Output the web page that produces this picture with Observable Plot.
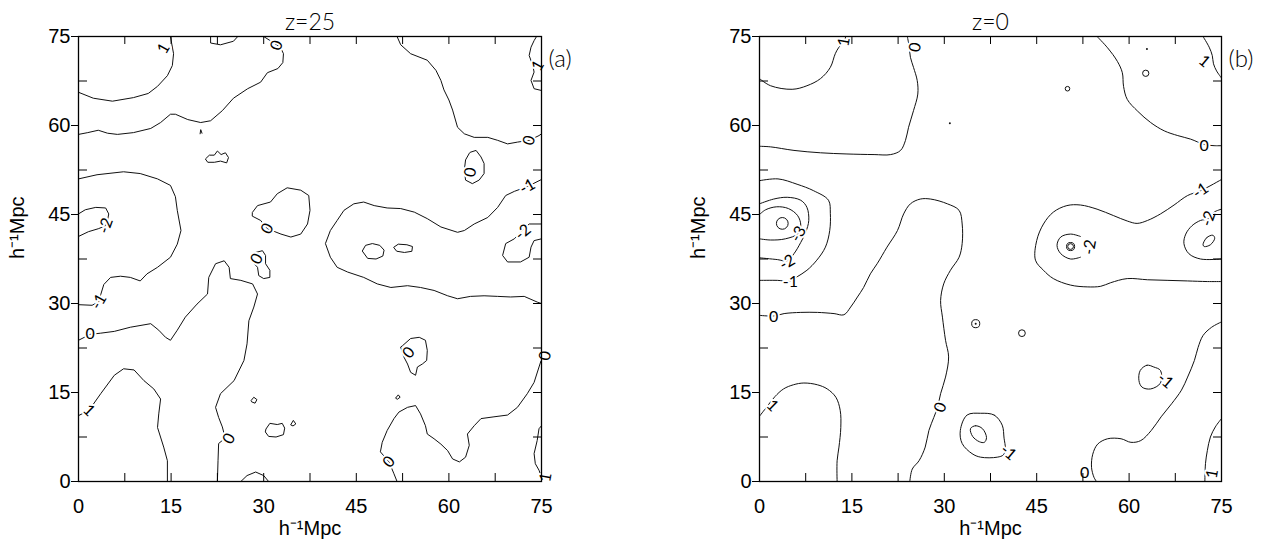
<!DOCTYPE html>
<html>
<head>
<meta charset="utf-8">
<script src="https://cdn.jsdelivr.net/npm/d3@7"></script>
<script src="https://cdn.jsdelivr.net/npm/@observablehq/plot@0.6"></script>
<style>
  html, body { margin: 0; padding: 0; background: #fff; }
  #wrap { display: flex; width: 1277px; height: 540px; overflow: hidden; }
  #wrap svg { display: block; overflow: visible; }
</style>
</head>
<body>
<div id="wrap"></div>
<script>
// ---------- axis ticks (h^-1 Mpc) ----------
const majorTicks = [0, 15, 30, 45, 60, 75];
const minorTicks = [7.5, 22.5, 37.5, 52.5, 67.5];
const allTicks = [0, 7.5, 15, 22.5, 30, 37.5, 45, 52.5, 60, 67.5, 75];

// ---------- panel (a): z = 25 contour paths, [x, y] in h^-1 Mpc ----------
const a_p1_topLeft = [[0,65.6],[2.4,64.6],[5.5,64.1],[8.9,64.7],[11.3,65.4],[12.8,66.6],[14.4,68.4],[15.2,70.1],[15.4,72.1],[15.1,73.8],[14.9,75]];
const a_cap_top = [[21.4,75],[21.4,73.9],[23.0,73.6],[25.1,74.2],[25.8,75]];
const a_z_top = [[0,58.5],[1.5,58.8],[3.2,59.2],[4.7,58.7],[6.3,58.5],[8.9,58.8],[11.7,59.5],[13.3,60.5],[14.9,61.9],[15.7,61.9],[17.7,61.0],[19.8,60.5],[21.4,60.8],[23.3,62.5],[25.1,64.6],[27.4,66.2],[29.5,67.3],[30.6,68.9],[32.3,69.6],[33.1,70.6],[33.2,72.1],[32.7,73.2],[30.0,75]];
const a_m1_left = [[0,51.0],[3.0,51.7],[7.3,52.2],[10.0,51.9],[12.8,51.0],[14.9,49.9],[15.7,48.0],[16.0,45.7],[16.6,42.3],[16.0,40.0],[14.9,37.8],[12.8,36.1],[11.1,35.0],[10.0,33.8],[8.4,34.4],[6.8,34.6],[5.2,34.4],[4.1,33.2],[3.6,31.5],[3.3,30.3],[2.2,29.7],[0,29.8]];
const a_m2_left = [[0,45.1],[1.1,45.8],[2.8,46.2],[4.4,46.1],[4.9,45.1],[4.7,44.0],[4.4,43.1],[3.2,42.6],[1.6,42.1],[0,41.3]];
const a_z_left = [[0,23.8],[1.9,24.8],[3.6,25.0],[5.8,25.3],[8.4,26.0],[11.7,26.6],[13.0,25.5],[14.1,24.3],[14.9,23.8],[16.0,25.5],[17.3,27.7],[19.2,29.9],[20.9,31.6],[21.1,34.4],[22.2,36.7],[23.6,37.2],[24.4,36.1],[24.6,34.2],[26.3,33.9],[28.2,33.3],[29.0,31.6],[28.4,29.4],[27.6,27.1],[27.3,23.2],[26.8,20.4],[25.2,17.0],[23.0,14.8],[22.2,12.5],[22.7,10.8],[23.3,9.2],[23.6,8.0],[23.4,7.0],[22.7,6.4],[22.6,3.5],[22.5,0]];
const a_p1_bottomLeft = [[0,11.1],[1.7,12.0],[3.6,14.8],[5.8,17.9],[7.3,19.0],[9.0,18.8],[10.6,17.0],[12.2,15.6],[13.3,13.9],[13.0,11.4],[12.8,9.1],[13.8,5.8],[14.4,3.5],[14.4,0]];
const a_cap_bottom = [[26.3,0],[27.3,1.0],[28.7,1.6],[30.0,1.0],[30.8,0]];
const a_ring1 = [[28.2,45.4],[29.0,46.5],[31.1,47.1],[32.2,48.5],[33.8,49.5],[36.0,49.1],[37.3,48.2],[37.5,45.7],[37.1,43.4],[36.0,41.7],[34.4,41.2],[32.8,41.7],[30.6,42.6],[29.5,44.0],[28.2,44.7]];
const a_ring2 = [[28.7,38.6],[29.8,38.9],[30.3,38.1],[30.3,36.7],[31.0,35.6],[31.0,34.4],[30.0,34.2],[29.2,34.7],[29.0,36.1],[28.2,37.0],[28.2,38.1]];
const a_ring3 = [[52.5,22.9],[53.8,24.1],[55.2,24.3],[56.2,23.8],[56.5,22.1],[56.4,20.4],[55.7,19.8],[54.9,19.3],[54.6,17.9],[53.8,18.4],[53.3,19.8],[52.7,21.0],[52.2,22.6]];
const a_ring4 = [[63.5,55.5],[64.4,55.8],[65.2,54.7],[65.7,53.6],[65.7,51.9],[64.9,50.8],[63.8,50.2],[62.7,50.8],[62.5,52.5],[62.7,54.2],[63.3,55.3]];
const a_z_bottomRight = [[51.6,0],[51.1,1.3],[50.3,3.3],[48.9,5.0],[49.2,6.6],[50.0,8.6],[51.1,10.6],[51.9,11.7],[53.3,12.5],[54.6,12.8],[55.4,11.4],[56.2,9.4],[56.5,8.0],[57.6,7.2],[58.7,6.3],[59.8,5.2],[60.6,3.8],[61.7,3.3],[62.7,4.1],[63.3,6.1],[63.0,8.0],[64.1,9.4],[65.2,10.6],[67.3,10.9],[69.5,11.2],[71.1,12.5],[72.7,14.8],[73.8,16.7],[74.6,19.3],[75,20.6]];
const a_p1_bottomRight = [[75,9.4],[74.6,8.9],[74.3,6.9],[73.8,4.7],[74.0,3.0],[74.6,1.9],[75,0.7]];
const a_z_topRight = [[51.6,75],[52.2,73.6],[53.8,72.1],[56.5,71.0],[57.9,69.3],[58.7,67.6],[59.2,66.0],[60.0,64.3],[60.6,62.6],[61.4,59.7],[62.5,58.6],[64.1,58.0],[66.3,58.0],[67.9,57.5],[69.5,56.9],[71.1,57.2],[73.0,57.5],[74.6,58.3],[75,58.6]];
const a_m1_right = [[75,50.9],[72.7,49.7],[70.6,48.9],[69.2,48.2],[67.9,46.2],[66.3,44.5],[64.1,43.4],[62.5,42.3],[61.4,42.0],[58.7,42.9],[56.5,44.3],[54.4,45.4],[52.2,46.0],[50.0,46.1],[47.9,46.5],[46.2,47.1],[44.6,46.8],[43.0,45.7],[41.9,44.0],[40.8,42.3],[40.0,40.1],[40.8,37.8],[41.9,36.1],[43.6,35.3],[46.2,34.4],[48.4,33.3],[50.6,32.7],[53.3,33.0],[55.4,32.7],[57.6,32.2],[59.8,31.3],[61.4,30.8],[63.5,31.2],[65.7,31.3],[67.9,31.2],[70.0,31.1],[72.2,31.2],[74.4,30.2],[75,30.0]];
const a_m2_right = [[75,40.9],[73.8,40.6],[73.3,39.5],[73.0,37.8],[71.6,37.0],[69.5,37.0],[68.7,38.1],[69.2,40.1],[70.6,40.9],[71.6,42.0],[73.0,43.4],[75,43.4]];
const a_p1_topRight = [[74.2,75],[73.8,74.3],[73.3,73.2],[73.0,71.8],[73.6,70.1],[73.8,69.0],[73.3,67.6],[73.8,66.2],[75,65.9]];
const a_blob1 = [[46.0,38.9],[46.5,39.8],[47.6,40.1],[48.8,39.8],[49.5,39.0],[49.3,38.0],[48.2,37.5],[46.9,37.6]];
const a_blob2 = [[51.1,39.5],[51.8,40.0],[53.2,39.9],[54.1,39.6],[54.0,38.8],[52.8,38.6],[51.6,38.8]];
const a_blob3 = [[20.6,54.4],[21.2,55.0],[22.0,55.0],[22.5,55.7],[23.1,55.1],[23.8,55.4],[24.3,54.6],[24.0,53.7],[23.0,54.0],[22.0,53.8],[21.0,53.8]];
const a_blob4 = [[30.4,8.9],[31.0,9.8],[32.2,9.6],[33.0,9.8],[33.4,9.0],[33.2,7.9],[32.0,7.5],[30.8,7.6],[30.3,8.3]];
const a_blob5 = [[28.0,13.7],[28.4,14.2],[28.9,13.8],[28.6,13.2],[28.1,13.4]];
const a_blob6 = [[34.4,9.6],[34.8,10.3],[35.2,9.7],[34.8,9.4]];
const a_blob7 = [[51.4,14.1],[51.8,14.6],[52.1,14.2],[51.7,13.9]];
const a_blob8 = [[19.7,58.6],[19.8,59.3],[20.0,58.7]];

const a_labelText = ["1","0","-2","-1","0","1","0","0","0","0","0","-1","-2","1","0","0","0","1"];
const a_labelX    = [13.8,32.1,4.4,3.3,1.9,1.7,30.6,28.9,24.4,73.0,63.5,72.7,72.0,74.4,53.5,50.3,75.6,75.7];
const a_labelY    = [73.0,73.5,43.1,30.3,24.8,12.0,42.6,37.5,7.2,57.5,52.1,49.7,42.0,70.1,21.7,3.3,21.2,0.7];

// ---------- panel (b): z = 0 contour paths ----------
const b_p1_topLeft = [[0,67.9],[1.8,66.7],[5.3,66.1],[7.7,66.7],[9.9,67.9],[11.5,69.8],[12.3,72.1],[12.9,73.2],[13.7,74.1],[14.0,75]];
const b_z_top = [[24.0,75],[24.3,73.3],[24.5,71.5],[25.0,69.8],[25.6,67.6],[25.7,65.3],[25.0,62.5],[24.2,59.7],[23.7,57.5],[22.9,55.8],[21.3,55.1],[18.6,55.1],[14.2,55.2],[9.9,55.4],[5.6,55.8],[1.8,56.4],[0,56.5]];
const b_z_topRight = [[54.8,75],[56.5,73.1],[58.1,70.8],[58.9,68.9],[59.1,66.6],[59.7,64.4],[61.4,62.4],[63.5,60.5],[65.7,59.1],[67.9,58.3],[70.0,57.7],[72.2,56.8],[73.8,56.6],[75,56.6]];
const b_p1_topRight = [[72.0,75],[73.0,73.2],[73.5,71.8],[73.7,70.4],[74.2,69.2],[75,68.0]];
const b_m1_left = [[0,50.7],[3.0,51.0],[6.1,50.1],[8.8,49.0],[11.2,47.4],[11.5,45.2],[11.4,42.3],[10.7,39.5],[9.3,37.3],[7.7,35.6],[6.1,34.5],[5.0,33.8],[2.9,33.9],[0,33.9]];
const b_m2_left = [[0,46.8],[2.3,47.6],[4.5,47.9],[6.7,47.4],[7.7,46.2],[8.0,44.0],[7.5,42.0],[6.7,40.3],[5.6,38.4],[4.5,37.2],[2.9,37.4],[0,37.7]];
const b_m3_left = [[0,45.0],[1.0,45.8],[2.8,46.3],[4.7,46.0],[6.2,44.8],[6.7,43.2],[6.3,41.8],[4.2,40.9],[1.8,40.7],[0,40.9]];
const b_z_left = [[0,28.0],[2.3,27.9],[4.0,28.3],[6.7,28.5],[9.4,28.5],[12.1,28.3],[13.7,28.1],[14.8,29.4],[15.9,31.1],[16.9,32.7],[18.0,35.0],[19.1,36.7],[20.7,39.5],[22.4,42.3],[23.4,45.1],[24.5,46.8],[26.1,47.6],[27.8,47.6],[30.5,46.8],[32.4,45.7],[32.9,43.4],[32.9,40.1],[32.4,37.8],[31.0,35.6],[29.9,33.3],[29.4,30.5],[29.7,27.7],[30.2,23.8],[30.7,21.0],[30.2,17.6],[29.4,14.8],[28.9,12.5],[28.3,10.8],[27.5,8.6],[26.9,5.8],[25.9,3.5],[24.8,2.1],[24.4,0]];
const b_p1_bottomLeft = [[0,11.0],[1.2,12.6],[2.5,14.3],[3.9,15.6],[5.5,16.3],[7.2,16.6],[9.4,16.3],[11.0,15.6],[12.4,14.2],[13.1,12.0],[13.2,9.1],[12.9,5.8],[12.6,3.5],[12.6,0]];
const b_m1_loop = [[35.9,11.5],[38.1,11.2],[39.4,9.5],[39.7,7.3],[39.9,5.6],[39.6,4.5],[38.6,4.1],[35.9,4.1],[34.5,4.7],[32.9,6.4],[32.6,8.6],[33.7,11.2]];
const b_ellipse = [[34.25,8.9],[35.06,9.4],[36.2,8.9],[36.85,7.4],[36.5,6.6],[35.7,6.7],[34.6,7.6]];
const b_m1_small = [[64.0,19.3],[62.9,19.6],[61.8,18.7],[61.6,17.0],[62.1,15.9],[63.5,15.6],[65.1,16.6],[65.1,18.7]];
const b_z_bottomRight = [[75,26.9],[73.4,26.0],[72.0,24.6],[71.2,22.6],[70.6,20.4],[69.5,17.6],[68.5,15.4],[66.9,13.1],[65.2,10.9],[63.6,8.6],[61.9,6.9],[60.3,6.6],[58.7,7.2],[56.5,7.2],[54.9,6.3],[54.1,4.6],[53.9,2.4],[54.3,0.7],[54.7,0]];
const b_p1_bottomRight = [[75,10.6],[74.0,9.2],[73.2,7.5],[72.7,5.2],[72.4,3.0],[72.3,0]];
const b_m1_right = [[75,50.9],[71.6,49.0],[69.5,48.2],[67.3,46.6],[65.1,45.1],[63.0,44.0],[61.3,43.5],[59.7,43.9],[57.5,44.8],[54.8,45.9],[52.1,46.6],[49.9,46.5],[47.7,45.4],[46.1,43.4],[45.0,40.6],[44.8,37.3],[46.1,35.6],[47.7,34.2],[50.5,33.1],[53.2,32.8],[55.4,32.9],[57.0,33.5],[59.7,34.2],[63.0,34.0],[66.3,33.9],[69.5,33.8],[72.7,33.7],[75,33.7]];
const b_m2_right = [[75,37.5],[71.6,37.5],[69.7,38.4],[68.9,40.1],[69.2,41.7],[70.2,43.1],[71.6,44.0],[72.9,44.3],[73.8,45.4],[75,45.9]];
const b_ellipse_right = [[72.0,39.9],[72.6,41.1],[73.6,41.5],[73.9,41.0],[73.2,39.9],[72.2,39.6]];
const b_m2_arc = [[52.1,37.8],[50.5,37.5],[48.9,38.4],[48.3,39.8],[48.9,41.2],[50.5,41.7],[52.1,41.3]];

// small closed contours of panel (b): centre [x, y], drawn as rings
const b_ringX = [3.7, 35.1, 42.6, 50.0, 62.7, 50.5, 50.5];
const b_ringY = [43.5, 26.6, 25.0, 66.2, 68.8, 39.6, 39.6];
const b_ringR = [10.5, 5, 3.5, 1.6, 3, 5, 2.5];
// single-cell peaks
const b_peakX = [35.1, 62.9, 30.9];
const b_peakY = [26.6, 72.9, 60.4];

const b_labelText = ["1","0","0","1","-1","-2","-2","-3","-2","-1","0","1","0","-1","-1","0","1"];
const b_labelX    = [13.7,25.3,72.2,72.2,71.6,72.9,53.6,6.3,4.5,5.0,2.3,2.1,29.4,40.4,65.9,52.8,73.5];
const b_labelY    = [74.1,73.2,56.6,70.8,49.0,44.3,39.5,41.7,36.9,33.6,27.7,12.8,12.5,4.9,17.0,1.4,1.3];

// ---------- drawing ----------
const H = 540, MT = 36, MB = 59;
const a_labelAngle = [-60,-70,-70,-60,0,45,-60,-60,-60,-75,-80,-30,-40,-60,-50,-50,-80,-80];
const b_labelAngle = [-80,-80,0,40,-35,-70,-80,-60,-30,0,0,45,-70,40,40,0,-80];

function labelRows(text, xs, ys, angles) {
  return text.map((t, i) => ({text: t, x: xs[i], y: ys[i], angle: angles[i]}));
}

const labelFont = {fontFamily: "Lato, 'DejaVu Sans', sans-serif", fontWeight: 400, fontSize: 16};

function panel({paths, loops, labels, rings = [], peaks = [], title, tag, width, marginLeft, marginRight, smooth}) {
  const fh = H - MT - MB;
  const fw = width - marginLeft - marginRight;
  const open = smooth ? "catmull-rom" : "linear";
  const closed = smooth ? "catmull-rom-closed" : "linear-closed";
  const marks = [];
  for (const p of paths) marks.push(Plot.line(p, {x: d => d[0], y: d => d[1], curve: open, stroke: "#111", strokeWidth: 1, clip: true}));
  for (const p of loops) marks.push(Plot.line(p, {x: d => d[0], y: d => d[1], curve: closed, stroke: "#111", strokeWidth: 1, clip: true}));
  if (rings.length) marks.push(Plot.dot(rings, {x: "x", y: "y", r: "r", stroke: "#111", strokeWidth: 1, fill: "none"}));
  if (peaks.length) marks.push(Plot.dot(peaks, {x: "x", y: "y", r: 1, fill: "#111"}));
  // contour level labels: a white knock-out first breaks the line, then the glyphs
  marks.push(Plot.text(labels, {x: "x", y: "y", text: "text", rotate: "angle", ...labelFont,
    fill: "white", stroke: "white", strokeWidth: 4}));
  marks.push(Plot.text(labels, {x: "x", y: "y", text: "text", rotate: "angle", ...labelFont, fill: "#000"}));
  // inward ticks on bottom, top and right; inward minor ticks on the left
  marks.push(Plot.tickX(allTicks, {x: d => d, insetTop: fh - 8, stroke: "#000"}));
  marks.push(Plot.tickX(allTicks, {x: d => d, insetBottom: fh - 8, stroke: "#000"}));
  marks.push(Plot.tickY(allTicks, {y: d => d, insetLeft: fw - 8, stroke: "#000"}));
  marks.push(Plot.tickY(minorTicks, {y: d => d, insetRight: fw - 9, stroke: "#000"}));
  marks.push(Plot.frame({stroke: "#000", strokeWidth: 1.3}));
  // titles and axis names
  marks.push(Plot.text([title], {frameAnchor: "top", lineAnchor: "bottom", dy: -7,
    fontFamily: "Lato, 'DejaVu Sans', sans-serif", fontWeight: 300, fontSize: 23, ariaLabel: "wide-text"}));
  marks.push(Plot.text([tag], {frameAnchor: "top-right", textAnchor: "start", lineAnchor: "middle", dx: 7, dy: 23,
    fontFamily: "Lato, 'DejaVu Sans', sans-serif", fontWeight: 300, fontSize: 24, ariaLabel: "wide-text"}));
  marks.push(Plot.text(["h\u207B\u00B9Mpc"], {frameAnchor: "bottom", lineAnchor: "bottom", dy: 53, fontSize: 20}));
  marks.push(Plot.text(["h\u207B\u00B9Mpc"], {frameAnchor: "left", rotate: -90, dx: -61, fontSize: 20}));

  const svg = Plot.plot({
    width, height: H,
    marginLeft, marginRight, marginTop: MT, marginBottom: MB,
    style: {fontFamily: "'Liberation Sans', Arial, sans-serif", fontSize: "20px", color: "#000", background: "#fff", overflow: "visible"},
    x: {domain: [0, 75], ticks: majorTicks, tickSize: 0, tickPadding: 17, label: null, tickFormat: d => String(d)},
    y: {domain: [0, 75], ticks: majorTicks, tickSize: 7, tickPadding: 1, label: null, tickFormat: d => String(d)},
    marks
  });
  d3.select(svg).selectAll("g[aria-label='wide-text'] text").style("letter-spacing", "3px");
  return svg;
}

const rows = (xs, ys, rs) => xs.map((x, i) => ({x, y: ys[i], r: rs ? rs[i] : 1}));

const panelA = panel({
  paths: [a_p1_topLeft, a_cap_top, a_z_top, a_m1_left, a_m2_left, a_z_left, a_p1_bottomLeft, a_cap_bottom,
          a_z_bottomRight, a_p1_bottomRight, a_z_topRight, a_m1_right, a_m2_right, a_p1_topRight, a_blob8],
  loops: [a_ring1, a_ring2, a_ring3, a_ring4, a_blob1, a_blob2, a_blob3, a_blob4, a_blob5, a_blob6, a_blob7],
  labels: labelRows(a_labelText, a_labelX, a_labelY, a_labelAngle),
  title: "z=25", tag: "(a)", width: 640, marginLeft: 78, marginRight: 99, smooth: false
});

const panelB = panel({
  paths: [b_p1_topLeft, b_z_top, b_z_topRight, b_p1_topRight, b_m1_left, b_m2_left, b_m3_left, b_z_left,
          b_p1_bottomLeft, b_z_bottomRight, b_p1_bottomRight, b_m1_right, b_m2_right, b_m2_arc],
  loops: [b_m1_loop, b_ellipse, b_m1_small, b_ellipse_right],
  rings: rows(b_ringX, b_ringY, b_ringR),
  peaks: rows(b_peakX, b_peakY),
  labels: labelRows(b_labelText, b_labelX, b_labelY, b_labelAngle),
  title: "z=0", tag: "(b)", width: 637, marginLeft: 119, marginRight: 56, smooth: true
});

document.getElementById("wrap").append(panelA, panelB);
</script>
</body>
</html>
